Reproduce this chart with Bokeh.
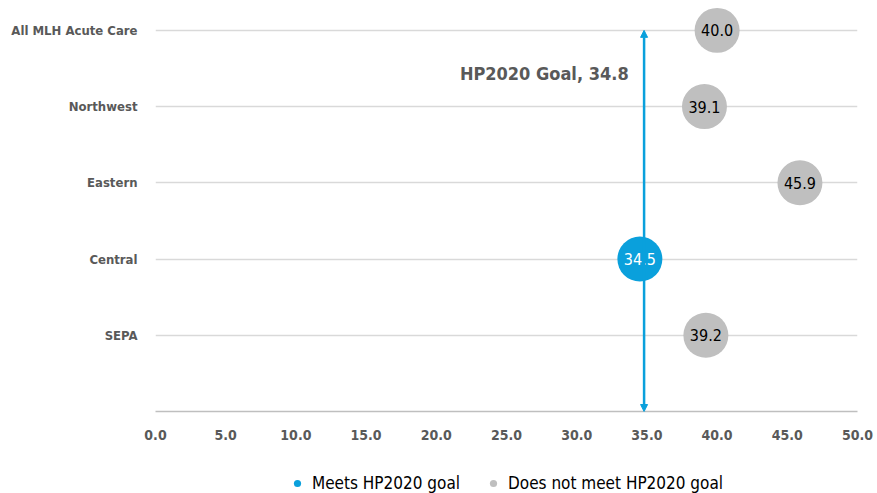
from bokeh.plotting import figure
from bokeh.models import ColumnDataSource, FixedTicker, Arrow, NormalHead, Label, Legend, LegendItem, Range1d
from bokeh.layouts import column
from bokeh.core.properties import value
from bokeh.embed import file_html
from bokeh.resources import INLINE

categories = ["All MLH Acute Care", "Northwest", "Eastern", "Central", "SEPA"]
rates = [40.0, 39.1, 45.9, 34.5, 39.2]
goal = 34.8
goal_label = "HP2020 Goal, 34.8"
x_ticks = [0, 5, 10, 15, 20, 25, 30, 35, 40, 45, 50]
legend_labels = ["Meets HP2020 goal", "Does not meet HP2020 goal"]

FONT = "'DejaVu Sans Condensed', 'Liberation Sans Narrow', Roboto, sans-serif"
BLUE = "#0AA0DC"
GRAY = "#BFBFBF"
TXT = "#595959"

n = len(categories)
ypos = [n - i for i in range(n)]
meets = [r <= goal for r in rates]

def subset(flag):
    d = dict(x=[], y=[], t=[])
    for r, y, m in zip(rates, ypos, meets):
        if m == flag:
            d["x"].append(r); d["y"].append(y); d["t"].append(f"{r:.1f}")
    return ColumnDataSource(d)

src_yes = subset(True)
src_no = subset(False)

p = figure(width=877, height=460, output_backend="svg", toolbar_location=None,
           x_range=Range1d(0, 50), y_range=Range1d(0, 5.3),
           min_border_left=155, min_border_right=20, min_border_top=7, min_border_bottom=49)
p.outline_line_color = None
p.background_fill_color = "white"

# axes
p.xaxis.ticker = FixedTicker(ticks=x_ticks)
p.xaxis.major_label_overrides = {t: f"{t:.1f}" for t in x_ticks}
p.xaxis.axis_line_color = "#BFBFBF"
p.xaxis.axis_line_width = 1.5
p.xaxis.major_tick_line_color = None
p.xaxis.minor_tick_line_color = None
p.xaxis.major_tick_out = 0
p.xaxis.major_label_standoff = 18
p.xaxis.major_label_text_font = FONT
p.xaxis.major_label_text_font_size = "14px"
p.xaxis.major_label_text_color = TXT
p.xaxis.major_label_text_font_style = "bold"

p.yaxis.ticker = FixedTicker(ticks=ypos)
p.yaxis.major_label_overrides = {y: c for y, c in zip(ypos, categories)}
p.yaxis.axis_line_color = None
p.yaxis.major_tick_line_color = None
p.yaxis.minor_tick_line_color = None
p.yaxis.major_tick_out = 0
p.yaxis.major_label_standoff = 18
p.yaxis.major_label_text_font = FONT
p.yaxis.major_label_text_font_size = "13px"
p.yaxis.major_label_text_color = TXT
p.yaxis.major_label_text_font_style = "bold"

p.xgrid.grid_line_color = None
p.ygrid.ticker = FixedTicker(ticks=ypos)
p.ygrid.grid_line_color = "#D9D9D9"
p.ygrid.grid_line_width = 1.5

# goal arrow
p.add_layout(Arrow(x_start=goal, y_start=0, x_end=goal, y_end=n,
                   line_color=BLUE, line_width=2.5,
                   start=NormalHead(size=7, fill_color=BLUE, line_color=BLUE),
                   end=NormalHead(size=7, fill_color=BLUE, line_color=BLUE)))
p.add_layout(Label(x=goal - 1.1, y=4.44, text=goal_label, text_align="right",
                   text_baseline="middle", text_font=FONT, text_font_size="18px",
                   text_font_style="bold", text_color=TXT))

p.scatter("x", "y", source=src_yes, size=45, fill_color=BLUE, line_color=None)
p.scatter("x", "y", source=src_no, size=45, fill_color=GRAY, line_color=None)
p.text("x", "y", text="t", source=src_yes, text_align="center", text_baseline="middle",
       text_font=value(FONT), text_font_size="16px", text_color="white")
p.text("x", "y", text="t", source=src_no, text_align="center", text_baseline="middle",
       text_font=value(FONT), text_font_size="16px", text_color="black")

# legend strip (dummy renderers placed outside the visible range)
lf = figure(width=877, height=33, output_backend="svg", toolbar_location=None,
            x_range=Range1d(0, 1), y_range=Range1d(0, 1),
            min_border_left=0, min_border_right=0, min_border_top=0, min_border_bottom=0)
lf.axis.visible = False
lf.grid.visible = False
lf.outline_line_color = None
l_yes = lf.scatter(x=[-5], y=[-5], size=10, fill_color=BLUE, line_color=None)
l_no = lf.scatter(x=[-5], y=[-5], size=10, fill_color=GRAY, line_color=None)
legend = Legend(items=[LegendItem(label=legend_labels[0], renderers=[l_yes]),
                       LegendItem(label=legend_labels[1], renderers=[l_no])],
                orientation="horizontal", location=(133, 0), border_line_color=None,
                background_fill_alpha=0,
                label_text_font=FONT, label_text_font_size="17px", label_text_color="black",
                glyph_width=18, glyph_height=18, spacing=24, margin=0, padding=2,
                label_standoff=6)
lf.add_layout(legend, "center")

open("out.html", "w").write(file_html(column(p, lf, spacing=0), INLINE))
